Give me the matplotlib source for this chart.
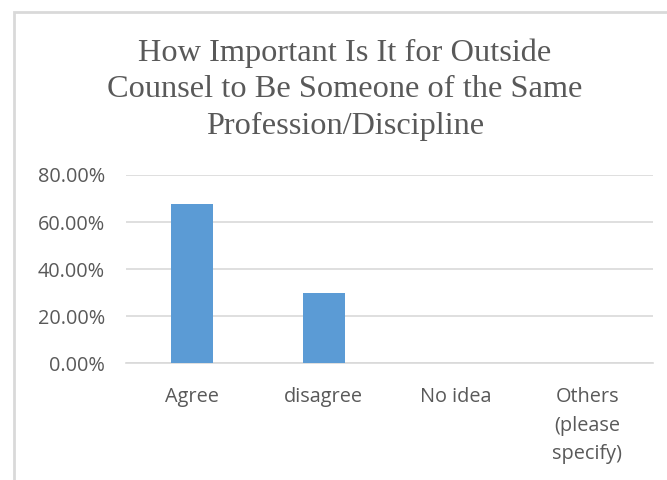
import matplotlib
matplotlib.use('Agg')
import matplotlib.pyplot as plt
from matplotlib import ticker
from matplotlib.patches import Rectangle

categories = ['Agree', 'disagree', 'No idea', 'Others\n(please\nspecify)']
values = [67.57, 29.73, 0.0, 0.0]
yticks = [0, 20, 40, 60, 80]

title = 'How Important Is It for Outside\nCounsel to Be Someone of the Same\nProfession/Discipline'

fig = plt.figure(figsize=(6.67, 4.8), dpi=100)

# chart frame (only left/top visible in original crop)
frame = Rectangle((14 / 667, -0.1), 1.2, 1 - 12 / 480 + 0.1, transform=fig.transFigure,
                  fill=False, edgecolor='#d9d9d9', linewidth=2.0)
fig.patches.append(frame)

ax = fig.add_axes([126 / 667, 1 - 363.3 / 480, (653 - 126) / 667, (363.3 - 175) / 480])
x = range(len(categories))
ax.bar(x, values, width=0.32, color='#5b9bd5', zorder=3)

ax.set_xlim(-0.5, len(categories) - 0.5)
ax.set_ylim(0, 80)
ax.set_yticks(yticks)
ax.yaxis.set_major_formatter(ticker.FuncFormatter(lambda v, p: f'{v:.2f}%'))
ax.set_xticks(list(x))
ax.set_xticklabels(categories, linespacing=1.58)
ax.grid(axis='y', color='#d9d9d9', linewidth=1.2, zorder=0)
for s in ['top', 'right', 'left']:
    ax.spines[s].set_visible(False)
ax.spines['bottom'].set_color('#d9d9d9')
ax.spines['bottom'].set_linewidth(1.2)
ax.tick_params(length=0, labelsize=14.3, labelcolor='#595959')
ax.tick_params(axis='y', pad=15)
ax.tick_params(axis='x', pad=17)
for lab in ax.get_xticklabels() + ax.get_yticklabels():
    lab.set_family('Open Sans')

fig.text(345 / 667, 1 - 38 / 480, title, ha='center', va='top', family='Liberation Serif',
         fontsize=23.3, color='#595959', linespacing=1.36)

fig.savefig('out.png', dpi=100)
